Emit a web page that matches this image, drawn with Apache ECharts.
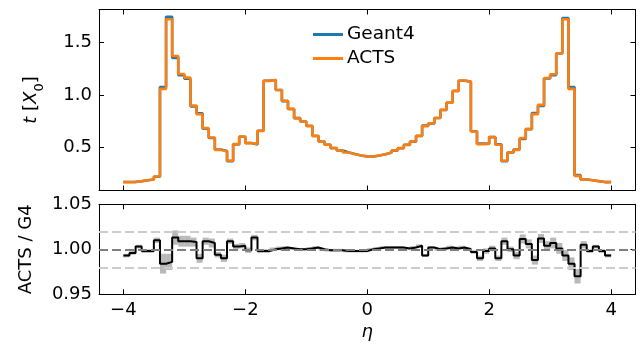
<!DOCTYPE html>
<html>
<head>
<meta charset="utf-8">
<script src="https://cdn.jsdelivr.net/npm/echarts@6/dist/echarts.min.js"></script>
<style>
  html, body { margin: 0; padding: 0; background: #fff; }
  #chart { width: 640px; height: 347px; }
</style>
</head>
<body>
<div id="chart"></div>
<script>
// eta binning: 80 bins of 0.1 from -4 to 4
var etaMin = -4;
var binWidth = 0.1;

// material budget per bin, t [X0]
var acts = [
  0.172, 0.173, 0.181, 0.190, 0.197, 0.225, 1.057, 1.718, 1.370, 1.199,
  1.164, 0.898, 0.816, 0.684, 0.595, 0.478, 0.462, 0.374, 0.532, 0.605,
  0.542, 0.535, 0.658, 1.133, 1.142, 1.047, 0.943, 0.867, 0.779, 0.747,
  0.706, 0.611, 0.557, 0.526, 0.494, 0.472, 0.453, 0.437, 0.424, 0.415,
  0.415, 0.424, 0.437, 0.453, 0.472, 0.494, 0.526, 0.557, 0.611, 0.703,
  0.730, 0.780, 0.858, 0.927, 1.038, 1.136, 1.126, 0.652, 0.532, 0.535,
  0.600, 0.526, 0.374, 0.453, 0.478, 0.589, 0.677, 0.817, 0.905, 1.161,
  1.196, 1.395, 1.718, 1.057, 0.231, 0.197, 0.190, 0.181, 0.172, 0.172
];
var geant4 = [
  0.173, 0.174, 0.180, 0.190, 0.197, 0.223, 1.074, 1.742, 1.352, 1.188,
  1.154, 0.891, 0.824, 0.678, 0.591, 0.481, 0.467, 0.371, 0.530, 0.603,
  0.543, 0.528, 0.659, 1.135, 1.142, 1.046, 0.941, 0.866, 0.779, 0.747,
  0.705, 0.610, 0.557, 0.527, 0.495, 0.472, 0.454, 0.438, 0.425, 0.416,
  0.415, 0.424, 0.436, 0.452, 0.471, 0.493, 0.525, 0.556, 0.609, 0.708,
  0.729, 0.780, 0.857, 0.925, 1.037, 1.134, 1.126, 0.654, 0.537, 0.536,
  0.599, 0.531, 0.371, 0.453, 0.481, 0.582, 0.673, 0.827, 0.894, 1.156,
  1.188, 1.394, 1.730, 1.074, 0.238, 0.196, 0.190, 0.180, 0.172, 0.173
];

// ACTS / Geant4 ratio and its uncertainty
var ratio = [
  0.993, 0.996, 1.003, 0.998, 0.998, 1.010, 0.984, 0.986, 1.013, 1.009,
  1.009, 1.008, 0.990, 1.009, 1.007, 0.994, 0.990, 1.009, 1.003, 1.004,
  0.999, 1.013, 0.998, 0.998, 1.000, 1.001, 1.002, 1.001, 1.000, 1.000,
  1.001, 1.002, 1.000, 0.999, 0.999, 0.999, 0.998, 0.998, 0.998, 0.998,
  1.000, 1.001, 1.002, 1.002, 1.002, 1.002, 1.001, 1.002, 1.004, 0.993,
  1.002, 1.000, 1.001, 1.002, 1.001, 1.002, 1.000, 0.997, 0.990, 0.998,
  1.001, 0.990, 1.009, 1.000, 0.993, 1.0115, 1.006, 0.988, 1.012, 1.004,
  1.007, 1.001, 0.993, 0.984, 0.970, 1.005, 0.998, 1.003, 0.998, 0.993
];
var ratioErr = [
  0.002, 0.002, 0.002, 0.002, 0.002, 0.003, 0.011, 0.009, 0.008, 0.006,
  0.006, 0.005, 0.005, 0.004, 0.005, 0.003, 0.004, 0.003, 0.003, 0.003,
  0.003, 0.003, 0.002, 0.002, 0.002, 0.002, 0.0015, 0.0015, 0.0015, 0.0015,
  0.0015, 0.0015, 0.0015, 0.0015, 0.0015, 0.0015, 0.0015, 0.0015, 0.0015, 0.0015,
  0.0015, 0.0015, 0.0015, 0.0015, 0.0015, 0.0015, 0.0015, 0.0015, 0.0015, 0.0015,
  0.0015, 0.0015, 0.0015, 0.002, 0.002, 0.002, 0.002, 0.002, 0.003, 0.003,
  0.003, 0.003, 0.004, 0.003, 0.004, 0.005, 0.005, 0.005, 0.005, 0.005,
  0.006, 0.006, 0.006, 0.007, 0.008, 0.004, 0.002, 0.002, 0.002, 0.002
];

var xTicks = [-4, -2, 0, 2, 4];
var tTicks = [0.5, 1.0, 1.5];
var ratioTicks = [0.95, 1.00, 1.05];
var refLines = [0.98, 1.00, 1.02];

var FONT = 'DejaVu Sans';

function edge(i) {
  return etaMin + i * binWidth;
}

// histogram as step points: left edge of each bin + final right edge
function stepPoints(values) {
  var pts = values.map(function (v, i) { return [edge(i), v]; });
  pts.push([edge(values.length), values[values.length - 1]]);
  return pts;
}

function minus(v) {
  return v < 0 ? '\u2212' + Math.abs(v) : String(v);
}

function xAx(gridIndex, pos, showLabel) {
  return {
    type: 'value',
    gridIndex: gridIndex,
    position: pos,
    min: -4.4,
    max: 4.4,
    splitLine: { show: false },
    axisLine: { show: true, onZero: false, lineStyle: { color: '#000', width: 1 } },
    axisTick: { show: true, inside: true, length: 5, customValues: xTicks, lineStyle: { color: '#000' } },
    axisLabel: {
      show: showLabel,
      customValues: xTicks,
      formatter: minus,
      color: '#000',
      fontFamily: FONT,
      fontSize: 18,
      margin: 7
    }
  };
}

function yAx(gridIndex, pos, min, max, ticks, digits, showLabel) {
  return {
    type: 'value',
    gridIndex: gridIndex,
    position: pos,
    min: min,
    max: max,
    splitLine: { show: false },
    axisLine: { show: true, onZero: false, lineStyle: { color: '#000', width: 1 } },
    axisTick: { show: true, inside: true, length: 5, customValues: ticks, lineStyle: { color: '#000' } },
    axisLabel: {
      show: showLabel,
      customValues: ticks,
      formatter: function (v) { return v.toFixed(digits); },
      color: '#000',
      fontFamily: FONT,
      fontSize: 18,
      margin: 7
    }
  };
}

var chartDom = document.getElementById('chart');
var myChart = echarts.init(chartDom, null, { renderer: 'canvas' });

var topX = xAx(0, 'bottom', false);
var topX2 = xAx(0, 'top', false);
var botX = xAx(1, 'bottom', true);
botX.name = 'η';
botX.nameLocation = 'middle';
botX.nameGap = 29;
botX.nameTextStyle = { fontFamily: FONT, fontSize: 18, fontStyle: 'italic', color: '#000' };
var botX2 = xAx(1, 'top', false);

var topY = yAx(0, 'left', 0.092, 1.811, tTicks, 1, true);
topY.name = '{i|t} [{i|X}{s|0}]';
topY.nameLocation = 'middle';
topY.nameGap = 59;
topY.nameRotate = 90;
topY.nameTextStyle = {
  color: '#000', fontFamily: FONT, fontSize: 18,
  rich: {
    i: { fontStyle: 'italic', fontFamily: FONT, fontSize: 18, color: '#000' },
    s: { fontFamily: FONT, fontSize: 13, color: '#000', verticalAlign: 'bottom', padding: [0, 0, -6, 0] }
  }
};
var topY2 = yAx(0, 'right', 0.092, 1.811, tTicks, 1, false);

var botY = yAx(1, 'left', 0.95, 1.05, ratioTicks, 2, true);
botY.name = 'ACTS / G4';
botY.nameLocation = 'middle';
botY.nameGap = 64;
botY.nameRotate = 90;
botY.nameTextStyle = { color: '#000', fontFamily: FONT, fontSize: 18 };
var botY2 = yAx(1, 'right', 0.95, 1.05, ratioTicks, 2, false);

var bandData = ratio.map(function (r, i) {
  return [edge(i), edge(i + 1), r - ratioErr[i], r + ratioErr[i]];
});

var option = {
  animation: false,
  backgroundColor: '#fff',
  grid: [
    { left: 99, top: 9.5, width: 536.5, height: 181 },
    { left: 99, top: 204.3, width: 536.5, height: 90 }
  ],
  legend: {
    data: ['Geant4', 'ACTS'],
    orient: 'vertical',
    left: 308,
    top: 20,
    itemWidth: 30,
    itemHeight: 3,
    itemGap: 5,
    icon: 'rect',
    textStyle: { fontFamily: FONT, fontSize: 18.5, color: '#000', lineHeight: 19, padding: [0, 0, 0, -1] }
  },
  xAxis: [topX, topX2, botX, botX2],
  yAxis: [topY, topY2, botY, botY2],
  series: [
    {
      name: 'Geant4',
      type: 'line',
      step: 'end',
      xAxisIndex: 0,
      yAxisIndex: 0,
      showSymbol: false,
      data: stepPoints(geant4),
      color: '#1f77b4',
      lineStyle: { width: 2.6, color: '#1f77b4' },
      z: 2
    },
    {
      name: 'ACTS',
      type: 'line',
      step: 'end',
      xAxisIndex: 0,
      yAxisIndex: 0,
      showSymbol: false,
      data: stepPoints(acts),
      color: '#ff7f0e',
      lineStyle: { width: 2.6, color: '#ff7f0e' },
      z: 3
    },
    {
      name: 'band',
      type: 'custom',
      xAxisIndex: 2,
      yAxisIndex: 2,
      data: bandData,
      encode: { x: [0, 1], y: [2, 3] },
      renderItem: function (params, api) {
        var p0 = api.coord([api.value(0), api.value(3)]);
        var p1 = api.coord([api.value(1), api.value(2)]);
        return {
          type: 'rect',
          shape: { x: p0[0], y: p0[1], width: p1[0] - p0[0], height: p1[1] - p0[1] },
          style: { fill: 'rgba(128,128,128,0.55)' }
        };
      },
      z: 1
    },
    {
      name: 'ratio',
      type: 'line',
      step: 'end',
      xAxisIndex: 2,
      yAxisIndex: 2,
      showSymbol: false,
      data: stepPoints(ratio),
      lineStyle: { width: 2, color: '#000' },
      z: 2
    },
    {
      name: 'refs',
      type: 'line',
      xAxisIndex: 2,
      yAxisIndex: 2,
      data: [],
      z: 3,
      markLine: {
        silent: true,
        symbol: 'none',
        label: { show: false },
        lineStyle: { type: [9, 4], width: 2 },
        data: refLines.map(function (v) {
          return {
            yAxis: v,
            lineStyle: { color: v === 1 ? '#7f7f7f' : '#cccccc', type: [9, 4], width: 2 }
          };
        })
      }
    }
  ]
};

option && myChart.setOption(option);
</script>
</body>
</html>
